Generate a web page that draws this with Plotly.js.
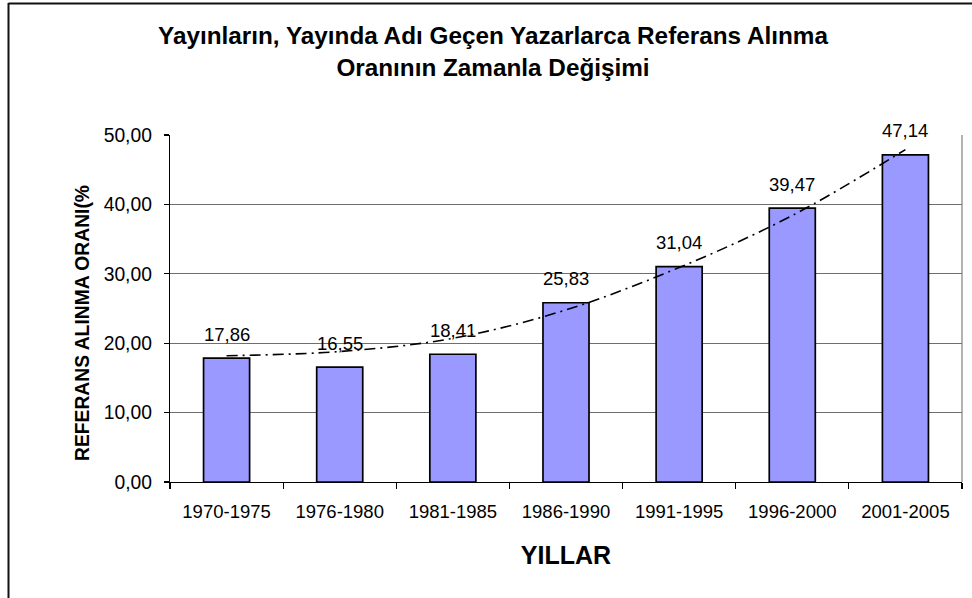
<!DOCTYPE html>
<html>
<head>
<meta charset="utf-8">
<script src="https://cdn.plot.ly/plotly-3.0.1.min.js"></script>
<style>
  html, body { margin: 0; padding: 0; background: #fff; }
  #chart { width: 972px; height: 598px; }
</style>
</head>
<body>
<div id="chart"></div>
<script>
// ---- data ----
const periods = ['1970-1975', '1976-1980', '1981-1985', '1986-1990', '1991-1995', '1996-2000', '2001-2005'];
const rates = [17.86, 16.55, 18.41, 25.83, 31.04, 39.47, 47.14];
// trendline at each category centre
const trendValues = [18.2, 18.8, 20.7, 24.8, 30.9, 38.4, 47.9];
const yTicks = [0, 10, 20, 30, 40, 50];

const FONT = 'Liberation Sans, Arial, sans-serif';

const fmt = v => v.toFixed(2).replace('.', ',');

const bars = {
  type: 'bar',
  x: periods,
  y: rates,
  marker: { color: '#9999FF', line: { color: '#000000', width: 1.7 } },
  hoverinfo: 'x+y',
  showlegend: false
};

const trend = {
  type: 'scatter',
  mode: 'lines',
  x: periods,
  y: trendValues,
  line: { color: '#000000', width: 1.6, shape: 'spline', smoothing: 1.0, dash: '11px,5px,2px,5px' },
  hoverinfo: 'skip',
  showlegend: false
};

// plot area: x 170..962, y 135..482 (pixels)
const L = 170, R = 962, T = 135, B = 482;
const px2paperX = px => (px - L) / (R - L);
const px2paperY = py => (B - py) / (B - T);

const labelAnnotations = periods.map((p, i) => ({
  x: p, y: rates[i], xref: 'x', yref: 'y',
  text: fmt(rates[i]),
  showarrow: false,
  yanchor: 'middle',
  yshift: 24,
  font: { family: FONT, size: 18.5, color: '#000' }
}));

const yTitle = {
  xref: 'paper', yref: 'paper',
  x: px2paperX(82), y: px2paperY(323),
  xanchor: 'center', yanchor: 'middle',
  text: 'REFERANS ALINMA ORANI(%',
  textangle: -90,
  showarrow: false,
  font: { family: FONT, size: 19.3, color: '#000', weight: 'bold' }
};

const layout = {
  width: 972,
  height: 598,
  margin: { l: L, r: 972 - R, t: T, b: 598 - B, pad: 0 },
  paper_bgcolor: '#ffffff',
  plot_bgcolor: '#ffffff',
  separators: ',.',
  bargap: 0.593,
  font: { family: FONT, color: '#000' },
  title: {
    text: 'Yayınların, Yayında Adı Geçen Yazarlarca Referans Alınma<br>Oranının Zamanla Değişimi',
    font: { family: FONT, size: 24.3, color: '#000', weight: 'bold' },
    xref: 'container', x: 493 / 972, xanchor: 'center',
    yref: 'container', y: 1 - 44 / 598, yanchor: 'top'
  },
  xaxis: {
    type: 'category',
    showline: true, linecolor: '#000', linewidth: 1.2,
    ticks: 'outside', ticklen: 6, tickcolor: '#000', tickwidth: 1.2,
    tickson: 'boundaries',
    showgrid: false,
    tickfont: { family: FONT, size: 18.5, color: '#000' },
    ticklabelstandoff: 13,
    title: { text: 'YILLAR', font: { family: FONT, size: 25, color: '#000', weight: 'bold' }, standoff: 25 },
    fixedrange: true
  },
  yaxis: {
    range: [0, 50],
    tickvals: yTicks,
    tickformat: '.2f',
    showline: true, linecolor: '#000', linewidth: 1.2,
    ticks: 'outside', ticklen: 5, tickcolor: '#000', tickwidth: 1.2,
    showgrid: true, gridcolor: '#6e6e6e', gridwidth: 1,
    zeroline: false,
    tickfont: { family: FONT, size: 19.3, color: '#000' },
    ticklabelstandoff: 8,
    fixedrange: true
  },
  annotations: labelAnnotations.concat([yTitle]),
  shapes: [
    // right border of plot area
    { type: 'line', xref: 'paper', yref: 'paper', x0: 1, x1: 1, y0: 0, y1: 1, line: { color: '#808080', width: 1.2 } },
    // chart-area frame (left and top edges visible)
    { type: 'line', xref: 'paper', yref: 'paper', x0: px2paperX(8.5), x1: px2paperX(8.5), y0: px2paperY(3), y1: px2paperY(620), line: { color: '#111', width: 2 } },
    { type: 'line', xref: 'paper', yref: 'paper', x0: px2paperX(8.5), x1: px2paperX(990), y0: px2paperY(3.5), y1: px2paperY(3.5), line: { color: '#111', width: 2 } }
  ]
};

Plotly.newPlot('chart', [bars, trend], layout, { displayModeBar: false, staticPlot: true });
</script>
</body>
</html>
